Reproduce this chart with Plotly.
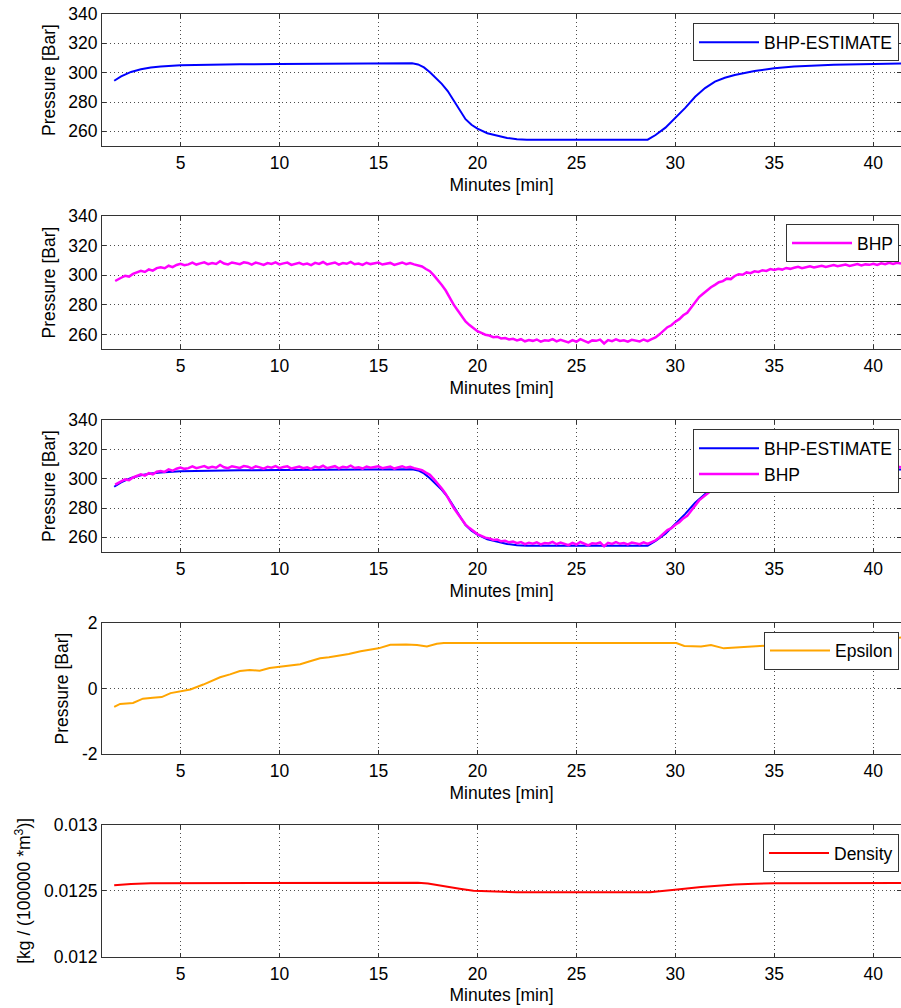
import plotly.graph_objects as go

# ---------------- data ----------------
est_t = [1.65, 2.0, 2.5, 3.0, 3.5, 4.0, 5.0, 6.0, 8.0, 10.0, 13.0, 16.7, 17.0, 17.3,
         17.6, 17.9, 18.2, 18.5, 18.8, 19.1, 19.4, 19.7, 20.0, 20.5, 21.0, 21.5, 22.0,
         22.5, 28.6, 29.0, 29.5, 30.0, 30.5, 31.0, 31.5, 32.0, 32.5, 33.0, 34.0, 35.0,
         36.0, 38.0, 40.0, 41.5]
est_p = [294.5, 297.5, 300.5, 302.3, 303.5, 304.2, 305.0, 305.4, 305.7, 305.9, 306.1,
         306.4, 305.6, 303.6, 300.3, 296.6, 292.4, 287.5, 281.0, 274.2, 268.3, 264.5,
         261.8, 258.7, 257.0, 255.5, 254.6, 254.3, 254.3, 257.5, 262.5, 268.9, 276.0,
         283.6, 289.5, 293.9, 296.5, 298.4, 301.2, 303.0, 304.2, 305.4, 306.1, 306.3]

bhp_t = [1.7, 1.8,
         2.0, 2.2, 2.4, 2.6, 2.8,
         3.0, 3.2, 3.4, 3.6, 3.8,
         4.0, 4.2, 4.4, 4.6, 4.8,
         5.0, 5.2, 5.4, 5.6, 5.8,
         6.0, 6.2, 6.4, 6.6, 6.8,
         7.0, 7.2, 7.4, 7.6, 7.8,
         8.0, 8.2, 8.4, 8.6, 8.8,
         9.0, 9.2, 9.4, 9.6, 9.8,
         10.0, 10.2, 10.4, 10.6, 10.8,
         11.0, 11.2, 11.4, 11.6, 11.8,
         12.0, 12.2, 12.4, 12.6, 12.8,
         13.0, 13.2, 13.4, 13.6, 13.8,
         14.0, 14.2, 14.4, 14.6, 14.8,
         15.0, 15.2, 15.4, 15.6, 15.8,
         16.0, 16.2, 16.4, 16.6, 16.8,
         17.0, 17.2, 17.4, 17.6, 17.8,
         18.0, 18.2, 18.4, 18.6, 18.8,
         19.0, 19.2, 19.4, 19.6, 19.8,
         20.0, 20.2, 20.4, 20.6, 20.8,
         21.0, 21.2, 21.4, 21.6, 21.8,
         22.0, 22.2, 22.4, 22.6, 22.8,
         23.0, 23.2, 23.4, 23.6, 23.8,
         24.0, 24.2, 24.4, 24.6, 24.8,
         25.0, 25.2, 25.4, 25.6, 25.8,
         26.0, 26.2, 26.4, 26.6, 26.8,
         27.0, 27.2, 27.4, 27.6, 27.8,
         28.0, 28.2, 28.4, 28.6, 28.8,
         29.0, 29.2, 29.4, 29.6, 29.8,
         30.0, 30.2, 30.4, 30.6, 30.8,
         31.0, 31.2, 31.4, 31.6, 31.8,
         32.0, 32.2, 32.4, 32.6, 32.8,
         33.0, 33.2, 33.4, 33.6, 33.8,
         34.0, 34.2, 34.4, 34.6, 34.8,
         35.0, 35.2, 35.4, 35.6, 35.8,
         36.0, 36.2, 36.4, 36.6, 36.8,
         37.0, 37.2, 37.4, 37.6, 37.8,
         38.0, 38.2, 38.4, 38.6, 38.8,
         39.0, 39.2, 39.4, 39.6, 39.8,
         40.0, 40.2, 40.4, 40.6, 40.8,
         41.0, 41.2, 41.4]
bhp_p = [296.0, 296.9,
         298.2, 299.5, 299.0, 300.8, 301.6,
         302.9, 302.1, 303.8, 303.0, 304.7,
         305.2, 304.6, 306.3, 305.4, 306.8,
         307.6, 306.7, 307.2, 308.4, 307.1,
         307.9, 308.6, 307.3, 308.1, 307.5,
         309.3, 307.8, 307.2, 308.5, 307.9,
         307.3, 308.6, 308.2, 307.0, 308.4,
         307.7, 306.8, 308.1, 307.5, 308.6,
         307.2, 307.9, 308.4, 306.9, 307.6,
         308.3, 307.1, 307.8, 306.7, 308.2,
         307.5, 308.8, 307.2, 307.6, 308.5,
         307.0, 308.1, 307.6, 308.9, 307.3,
         307.8, 306.9, 308.3, 307.4, 307.9,
         308.4, 307.1, 307.7, 308.2, 306.9,
         307.6, 308.5, 307.4, 308.1, 307.2,
         306.4, 305.8, 304.1, 302.6, 299.8,
         296.9, 293.3, 289.6, 284.8, 280.1,
         276.3, 272.4, 268.7, 266.3, 264.1,
         262.2, 261.0, 259.8, 259.3, 258.2,
         258.5, 257.3, 257.6, 256.6, 257.1,
         256.0, 256.8, 255.4, 256.3, 255.7,
         256.6, 255.2, 256.1, 255.8, 256.9,
         255.3, 256.4, 255.6, 254.7, 256.2,
         255.1, 256.8, 255.4, 254.5, 256.0,
         255.7, 256.5, 253.9, 256.2, 255.5,
         256.7, 255.6, 256.1, 255.2, 256.4,
         255.9, 255.3, 256.6, 255.5, 256.8,
         258.0, 260.1, 262.3, 264.9, 266.2,
         268.6, 270.3, 272.9, 274.6, 278.1,
         281.9, 285.2, 287.4, 289.9, 291.8,
         293.4, 295.2, 295.9, 297.6, 297.3,
         299.4, 300.6, 300.2, 301.8, 301.3,
         302.5, 302.1, 303.3, 302.8, 304.0,
         303.5, 304.3, 303.7, 304.8, 304.2,
         304.9, 305.6, 304.7, 305.3, 305.9,
         305.1, 305.8, 306.3, 305.5, 306.1,
         306.7, 305.9, 306.4, 307.1, 306.2,
         306.8, 307.4, 306.5, 307.2, 306.9,
         307.6, 306.8, 307.9, 307.3, 308.2,
         307.5, 308.3, 307.7]

eps_t = [1.65, 1.95, 2.6, 3.1, 3.6, 4.05, 4.5, 5.0, 5.5, 6.15, 7.0, 7.5, 8.0, 8.5, 9.0,
         9.5, 10.05, 11.05, 11.5, 12.05, 12.5, 13.05, 13.5, 14.1, 14.5, 15.0, 15.6, 16.4,
         16.95, 17.45, 17.95, 18.3, 30.05, 30.45, 31.3, 31.8, 32.45, 33.3, 34.5, 35.5,
         37.0, 38.5, 40.0, 41.0, 41.5]
eps_p = [-0.56, -0.47, -0.44, -0.31, -0.28, -0.26, -0.14, -0.08, -0.03, 0.12, 0.34, 0.43,
         0.53, 0.56, 0.54, 0.62, 0.66, 0.74, 0.82, 0.92, 0.95, 1.0, 1.05, 1.13, 1.16, 1.22,
         1.33, 1.34, 1.32, 1.28, 1.36, 1.38, 1.38, 1.29, 1.28, 1.32, 1.22, 1.26, 1.30, 1.33,
         1.38, 1.42, 1.47, 1.52, 1.56]

den_t = [1.65, 2.5, 3.5, 17.0, 17.5, 18.1, 18.6, 19.1, 19.8, 20.8, 22.0, 28.7, 29.6, 30.1,
         31.3, 32.0, 33.0, 34.0, 35.0, 41.5]
den_v = [0.012542, 0.012552, 0.012558, 0.012562, 0.012555, 0.012539, 0.012527, 0.012516,
         0.012501, 0.012495, 0.012489, 0.012489, 0.012501, 0.012510, 0.012530, 0.012538,
         0.012548, 0.012554, 0.012558, 0.012560]

x_ticks = [5, 10, 15, 20, 25, 30, 35, 40]
p_ticks = [260, 280, 300, 320, 340]
e_ticks = [-2, 0, 2]
e_ticktext = ["-2", "0", "2"]
d_ticks = [0.012, 0.0125, 0.013]
d_ticktext = ["0.012", "0.0125", "0.013"]

# ---------------- figure ----------------
FONT = "Liberation Sans, Arial, sans-serif"
FS = 17.5
AX = "#333333"
GRID = "#4d4d4d"

fig = go.Figure()

def line(x, y, name, color, ax, leg, width=2):
    fig.add_trace(go.Scatter(x=x, y=y, name=name, mode="lines",
                             line=dict(color=color, width=width),
                             xaxis="x" + ax, yaxis="y" + ax, legend=leg,
                             showlegend=True))

line(est_t, est_p, "BHP-ESTIMATE", "#0000FF", "", "legend")
line(bhp_t, bhp_p, "BHP", "#FF00FF", "2", "legend2", 2.5)
line(est_t, est_p, "BHP-ESTIMATE", "#0000FF", "3", "legend3")
line(bhp_t, bhp_p, "BHP", "#FF00FF", "3", "legend3", 2.5)
line(eps_t, eps_p, "Epsilon", "#FFA500", "4", "legend4")
line(den_t, den_v, "Density", "#FF0000", "5", "legend5")

W, H, MT, MB, ML = 901, 1008, 14, 51, 102
H_PLOT = H - MT - MB
def dom(top_px, bot_px):
    return [(H - MB - bot_px) / H_PLOT, (H - MB - top_px) / H_PLOT]

domains = [dom(14, 146), dom(215.7, 349.3), dom(420, 552), dom(622.7, 754.3), dom(825, 956.7)]
yranges = [[250, 340], [250, 340], [250, 340], [-2, 2], [0.012, 0.013]]
ytitles = ["Pressure [Bar]"] * 4 + ["[kg / (100000 *m<sup>3</sup>)]"]
legend_top_px = [23.3, 224, 429.3, 631.7, 834]
legend_y = [(H - MB - p) / H_PLOT for p in legend_top_px]

common = dict(showline=True, linecolor=AX, linewidth=1, mirror="ticks",
              ticks="inside", ticklen=4, tickcolor=AX,
              showgrid=True, gridcolor=GRID, griddash="1px,3px", gridwidth=1,
              zeroline=False, tickfont=dict(family=FONT, size=FS, color="black"))

layout = dict(width=W, height=H, paper_bgcolor="white", plot_bgcolor="white",
              margin=dict(l=ML, r=0, t=MT, b=MB), showlegend=True,
              font=dict(family=FONT, size=FS, color="black"))

for i in range(5):
    sx = "" if i == 0 else str(i + 1)
    layout["xaxis" + sx] = dict(common, domain=[0, 1], anchor="y" + sx,
                                range=[1.034, 41.4], tickvals=x_ticks,
                                ticklabelstandoff=1,
                                title=dict(text="Minutes [min]", standoff=6,
                                           font=dict(family=FONT, size=FS)))
    yax = dict(common, domain=domains[i], anchor="x" + sx, range=yranges[i],
               title=dict(text=ytitles[i], standoff=8, font=dict(family=FONT, size=FS)))
    if i < 3:
        yax["tickvals"] = p_ticks
    elif i == 3:
        yax["tickvals"] = e_ticks
        yax["ticktext"] = e_ticktext
    else:
        yax["tickvals"] = d_ticks
        yax["ticktext"] = d_ticktext
    layout["yaxis" + sx] = yax
    lk = "legend" if i == 0 else "legend" + str(i + 1)
    layout[lk] = dict(x=0.9975, y=legend_y[i], xanchor="right", yanchor="top",
                      bgcolor="white", bordercolor=AX, borderwidth=1, visible=True,
                      itemwidth=60, font=dict(family=FONT, size=FS, color="black"),
                      tracegroupgap=0)

fig.update_layout(**layout)
fig.write_html("out.html", config={"displayModeBar": False},
               post_script="document.body.style.margin='0';"
                           "document.body.style.overflow='hidden';")
